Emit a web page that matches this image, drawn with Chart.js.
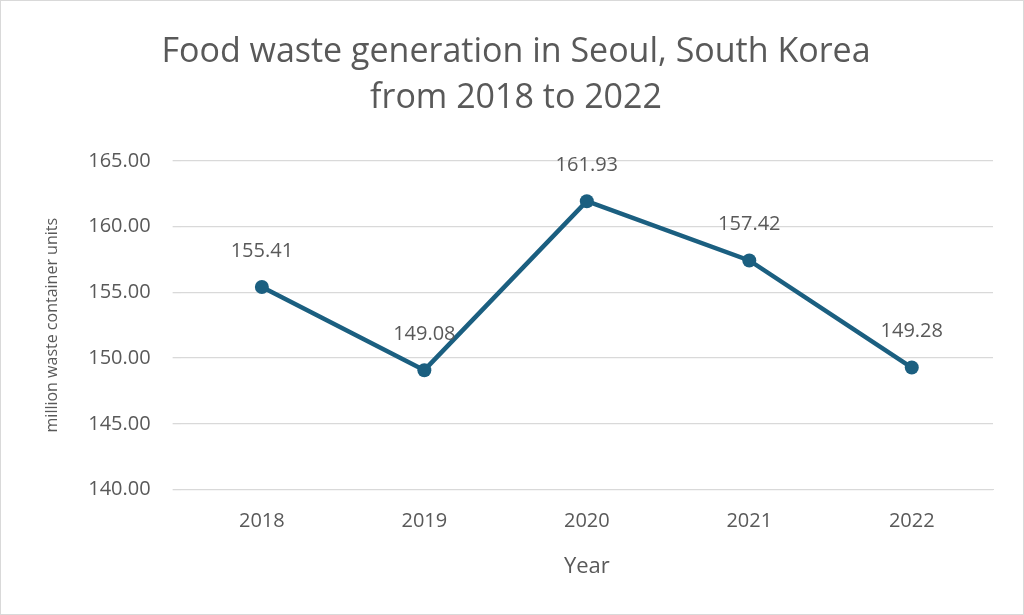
<!DOCTYPE html>
<html>
<head>
<meta charset="utf-8">
<script src="https://cdn.jsdelivr.net/npm/chart.js@4"></script>
<style>
  html, body { margin: 0; padding: 0; background: #fff; }
  #wrap { width: 1022px; height: 613px; border: 1px solid #d9d9d9; }
</style>
</head>
<body>
<div id="wrap"><canvas id="c" width="1022" height="613"></canvas></div>
<script>
const years = ["2018", "2019", "2020", "2021", "2022"];
const waste = [155.41, 149.08, 161.93, 157.42, 149.28];
const yTicks = [140, 145, 150, 155, 160, 165];

const FONT = "'Open Sans', 'Liberation Sans', sans-serif";
const GREY = "#595959";

// value labels above each point
const pointLabels = {
  id: "pointLabels",
  afterDatasetsDraw(chart) {
    const ctx = chart.ctx;
    const meta = chart.getDatasetMeta(0);
    ctx.save();
    ctx.font = "20px " + FONT;
    ctx.fillStyle = GREY;
    ctx.textAlign = "center";
    ctx.textBaseline = "middle";
    meta.data.forEach((pt, i) => {
      ctx.fillText(waste[i].toFixed(2), pt.x, pt.y - 36);
    });
    ctx.restore();
  },
};

new Chart(document.getElementById("c"), {
  type: "line",
  data: {
    labels: years,
    datasets: [{
      data: waste,
      borderColor: "#1b5f80",
      backgroundColor: "#1b5f80",
      borderWidth: 4.5,
      pointRadius: 7,
      pointBackgroundColor: "#1b5f80",
      pointBorderWidth: 0,
      tension: 0,
    }],
  },
  options: {
    responsive: false,
    animation: false,
    layout: { padding: { left: 38, right: 30, top: 10, bottom: 30 } },
    plugins: {
      legend: { display: false },
      tooltip: { enabled: false },
      title: {
        display: true,
        text: ["Food waste generation in Seoul, South Korea", "from 2018 to 2022"],
        color: GREY,
        font: { family: FONT, size: 34, weight: "normal", lineHeight: 1.35 },
        padding: { top: 18, bottom: 40 },
      },
    },
    scales: {
      x: {
        offset: true,
        grid: { display: false },
        border: { color: "#d9d9d9" },
        ticks: { color: GREY, font: { family: FONT, size: 20 }, padding: 12 },
        title: { display: true, text: "Year", color: GREY, font: { family: FONT, size: 22 }, padding: { top: 8 } },
      },
      y: {
        min: yTicks[0],
        max: yTicks[yTicks.length - 1],
        afterBuildTicks: (axis) => { axis.ticks = yTicks.map((v) => ({ value: v })); },
        grid: { color: "#d9d9d9", lineWidth: 1.3 },
        border: { display: false },
        ticks: {
          color: GREY,
          font: { family: FONT, size: 20 },
          padding: 22,
          callback: (v) => Number(v).toFixed(2),
        },
        title: { display: true, text: "million waste container units", color: GREY, font: { family: FONT, size: 16 }, padding: { bottom: 4 } },
      },
    },
  },
  plugins: [pointLabels],
});
</script>
</body>
</html>
